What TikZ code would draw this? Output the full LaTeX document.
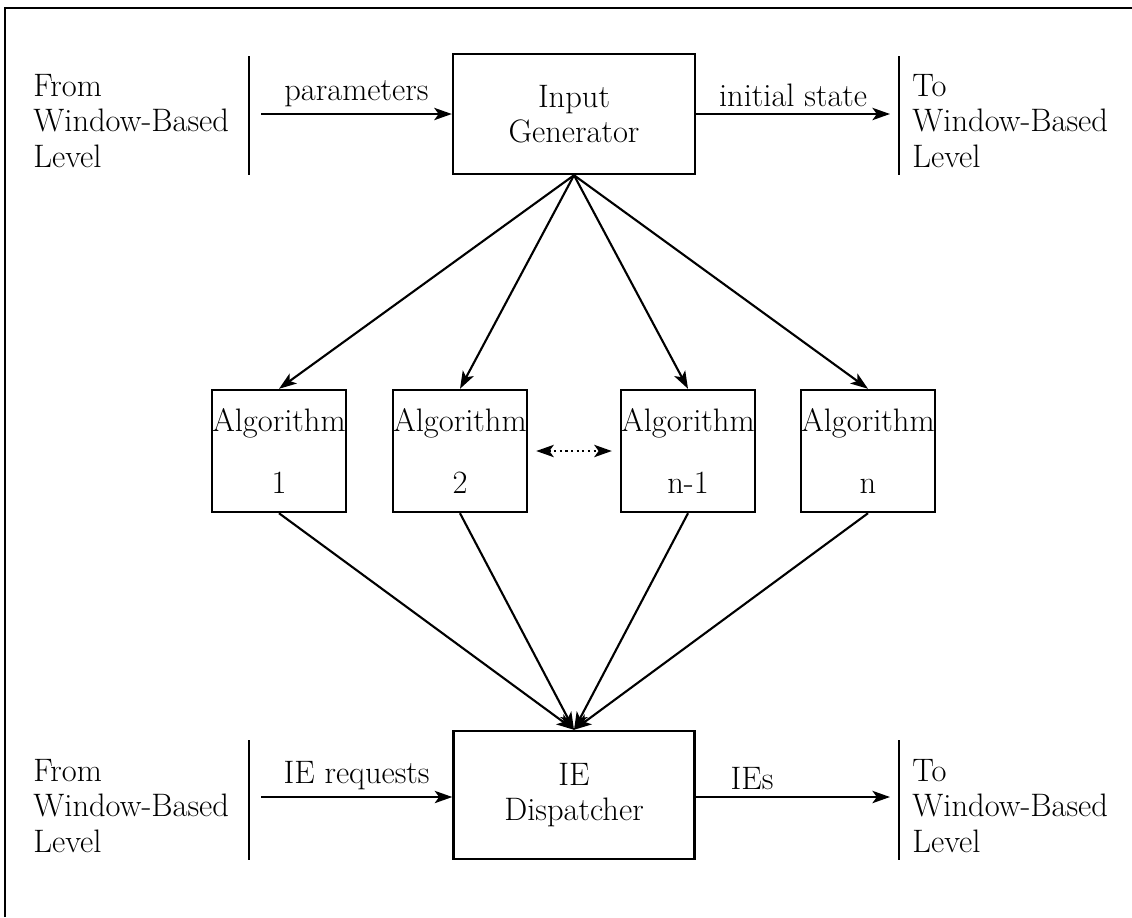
\documentclass[tikz,border=0pt]{standalone}
\usetikzlibrary{arrows.meta}

\begin{document}
\begin{tikzpicture}[x=0.02cm,y=-0.02cm,
  >={Stealth[length=10pt,width=7pt,inset=2.5pt]},
  every node/.style={font=\fontsize{18.5}{20}\selectfont},
  blk/.style={draw, line width=1.4pt, inner sep=0pt, align=center},
  algbox/.style={blk, minimum width=2.68cm, minimum height=2.44cm},
  side/.style={anchor=west, inner sep=0pt, align=left},
  flow/.style={->, line width=1.2pt},
  bar/.style={line width=1.4pt}]
\useasboundingbox (0,0) rectangle (1132,917);
\draw[line width=1.4pt] (5,917) -- (5,8) -- (1132,8);

% input side
\node[side] (srcA) at (33,121) {From\\Window-Based\\Level};
\draw[bar] (249,56) -- (249,175);
\coordinate (parin) at (261,114);
\node[blk, minimum width=4.84cm, minimum height=2.4cm] (gen) at (574,114) {Input\\Generator};
\draw[flow] (parin) -- (parin -| gen.west) node[midway, above=0pt] {parameters};
\coordinate (isout) at (890,114);
\draw[flow] (gen.east |- isout) -- (isout) node[midway, above=0pt] {initial state};
\draw[bar] (899,56) -- (899,175);
\node[side] (dstA) at (912,121) {To\\Window-Based\\Level};

% algorithms
\node[algbox] (alg1) at (279,451) {Algorithm\\[15pt]1};
\node[algbox] (alg2) at (460,451) {Algorithm\\[15pt]2};
\node[algbox] (alg3) at (688,451) {Algorithm\\[15pt]n-1};
\node[algbox] (alg4) at (868,451) {Algorithm\\[15pt]n};
\draw[<->, dotted, line width=1.2pt, shorten <=0.16cm, shorten >=0.16cm] (alg2.east) -- (alg3.west);

% dispatcher side
\node[blk, minimum width=4.82cm, minimum height=2.56cm] (disp) at (574,795) {IE\\Dispatcher};
\foreach \k in {1,...,4} {
  \draw[flow] (gen.south) -- (alg\k.north);
  \draw[flow] (alg\k.south) -- (disp.north);
}
\node[side] (srcB) at (33,806) {From\\Window-Based\\Level};
\draw[bar] (249,740) -- (249,860);
\coordinate (reqin) at (261,797);
\draw[flow] (reqin) -- (reqin -| disp.west) node[midway, above=0pt] {IE requests};
\coordinate (ieout) at (890,797);
\draw[flow] (disp.east |- ieout) -- (ieout) node[pos=0.29, above=0pt] {IEs};
\draw[bar] (899,740) -- (899,860);
\node[side] (dstB) at (912,806) {To\\Window-Based\\Level};
\end{tikzpicture}
\end{document}
